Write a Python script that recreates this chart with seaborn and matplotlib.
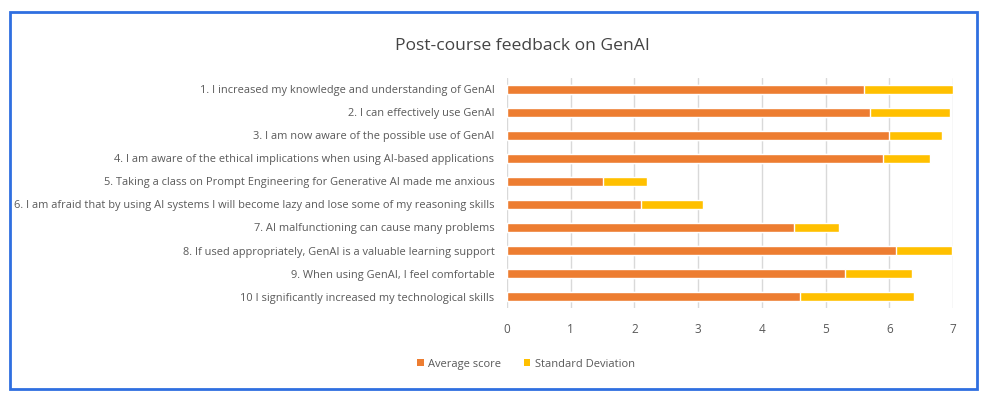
import matplotlib
matplotlib.use("Agg")
import matplotlib.pyplot as plt
from matplotlib.patches import Rectangle, Patch
import seaborn as sns
import pandas as pd
import numpy as np

categories = [
    "1. I increased my knowledge and understanding of GenAI",
    "2. I can effectively use GenAI",
    "3. I am now aware of the possible use of GenAI",
    "4. I am aware of the ethical implications when using AI-based applications",
    "5. Taking a class on Prompt Engineering for Generative AI made me anxious",
    "6. I am afraid that by using AI systems I will become lazy and lose some of my reasoning skills",
    "7. AI malfunctioning can cause many problems",
    "8. If used appropriately, GenAI is a valuable learning support",
    "9. When using GenAI, I feel comfortable",
    "10 I significantly increased my technological skills",
]
average_score = [5.6, 5.7, 6.0, 5.9, 1.5, 2.1, 4.5, 6.1, 5.3, 4.6]
std_dev = [1.4, 1.25, 0.82, 0.73, 0.70, 0.98, 0.71, 0.88, 1.06, 1.78]
x_ticks = [0, 1, 2, 3, 4, 5, 6, 7]
title = "Post-course feedback on GenAI"
series_names = ["Average score", "Standard Deviation"]

ORANGE = "#ED7D31"
YELLOW = "#FFC000"
GRAY = "#595959"
FONT = ["Open Sans", "DejaVu Sans"]

sns.set_theme(style="white")
plt.rcParams["font.family"] = FONT

df = pd.DataFrame({
    "category": categories,
    "avg": average_score,
    "total": np.array(average_score) + np.array(std_dev),
})

fig = plt.figure(figsize=(9.98, 3.97), dpi=100)
ax = fig.add_axes([0.508, 0.224, 0.447, 0.58])

sns.barplot(data=df, y="category", x="total", color=YELLOW, orient="h",
            width=0.4, saturation=1, ax=ax, zorder=2)
sns.barplot(data=df, y="category", x="avg", color=ORANGE, orient="h",
            width=0.4, saturation=1, ax=ax, zorder=3)

ax.set_xlim(0, 7)
ax.set_xticks(x_ticks)
ax.set_xticklabels([str(t) for t in x_ticks])
ax.set_xlabel("")
ax.set_ylabel("")
ax.grid(axis="x", color="#D9D9D9", linewidth=1, zorder=0)
ax.grid(axis="y", visible=False)
ax.set_axisbelow(True)
for s in ax.spines.values():
    s.set_visible(False)
ax.tick_params(axis="both", length=0, colors=GRAY)
ax.tick_params(axis="x", pad=11, labelsize=8.5)
ax.tick_params(axis="y", pad=9, labelsize=7.9)

fig.text(0.523, 0.885, title, ha="center", va="center", fontsize=12.6,
         color="#444444", family=FONT)

handles = [Patch(facecolor=ORANGE, edgecolor="none"),
           Patch(facecolor=YELLOW, edgecolor="none")]
fig.legend(handles, series_names, loc="center", bbox_to_anchor=(0.527, 0.083),
           ncol=2, frameon=False, fontsize=8, labelcolor=GRAY,
           handlelength=0.6, handleheight=0.6, handletextpad=0.4,
           columnspacing=2.0)

fig.patches.append(Rectangle((10 / 998, 1 - 389 / 397), 967 / 998, 377 / 397,
                             transform=fig.transFigure, fill=False,
                             edgecolor="#2F6FE0", linewidth=2, zorder=10))

fig.savefig("out.png", dpi=100)
